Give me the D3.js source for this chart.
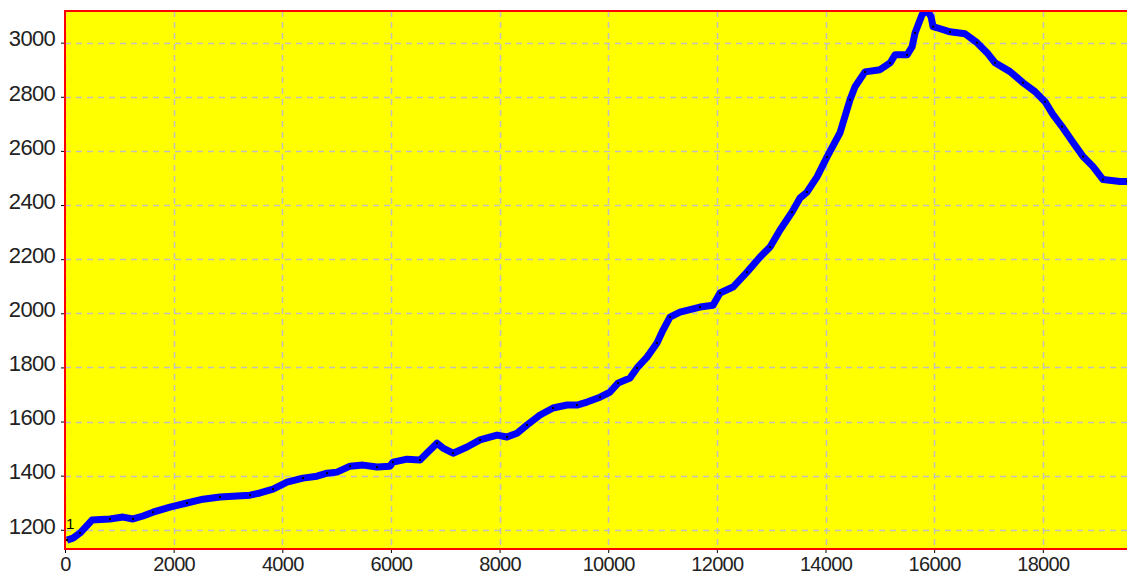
<!DOCTYPE html>
<html>
<head>
<meta charset="utf-8">
<script src="https://cdn.jsdelivr.net/npm/d3@7"></script>
<style>
  body { margin: 0; background: #fff; }
  text { font-family: "Liberation Sans", Arial, sans-serif; }
</style>
</head>
<body>
<div id="chart"></div>
<script>
// data
var xs = [37, 147, 276, 497, 828, 1068, 1252, 1436, 1620, 1933, 2246, 2540, 2853, 3166, 3406, 3590,
  3829, 4087, 4381, 4639, 4823, 5007, 5247, 5486, 5744, 5983, 6038, 6296, 6535, 6683, 6848, 6959,
  7143, 7401, 7640, 7953, 8137, 8321, 8505, 8745, 8984, 9242, 9426, 9610, 9849, 10033, 10180, 10401,
  10530, 10714, 10898, 11009, 11137, 11321, 11690, 11929, 12058, 12297, 12555, 12795, 12979, 13163,
  13384, 13531, 13660, 13844, 14028, 14267, 14451, 14543, 14727, 15004, 15188, 15280, 15501, 15593,
  15648, 15777, 15869, 15943, 15980, 16053, 16292, 16568, 16789, 16973, 17121, 17397, 17636, 17857,
  18041, 18188, 18354, 18557, 18741, 18925, 19109, 19422, 19551]
var ys = [1162, 1169, 1188, 1236, 1240, 1247, 1240, 1251, 1265, 1284, 1299, 1313, 1321, 1325, 1328, 1336,
  1350, 1376, 1391, 1398, 1409, 1413, 1435, 1439, 1432, 1435, 1450, 1461, 1458, 1487, 1520, 1502,
  1483, 1506, 1532, 1550, 1543, 1557, 1587, 1624, 1650, 1661, 1661, 1672, 1690, 1709, 1742, 1761,
  1798, 1838, 1890, 1938, 1986, 2004, 2023, 2030, 2075, 2097, 2152, 2208, 2245, 2308,
  2374, 2426, 2448, 2504, 2578, 2667, 2789, 2837, 2892, 2900, 2925, 2955, 2955, 2984,
  3036, 3103, 3122, 3096, 3059, 3055, 3040, 3033, 3000, 2963, 2926, 2893, 2852, 2819,
  2782, 2734, 2690, 2631, 2579, 2542, 2494, 2487, 2487]
var xTicks = [0, 2000, 4000, 6000, 8000, 10000, 12000, 14000, 16000, 18000]
var yTicks = [1200, 1400, 1600, 1800, 2000, 2200, 2400, 2600, 2800, 3000]

var width = 1127, height = 578
var margin = {top: 11, left: 65, right: 0, bottom: 29}
var w = width - margin.left - margin.right,
    h = height - margin.top - margin.bottom

var data = xs.map(function(d, i) { return {x: d, y: ys[i]} })

var svg = d3.select("#chart").append("svg")
    .attr("width", width)
    .attr("height", height)

var g = svg.append("g")
    .attr("transform", "translate(" + margin.left + "," + margin.top + ")")

var x = d3.scaleLinear().domain([0, 19550]).range([0, w])
var y = d3.scaleLinear().domain([1129, 3117]).range([h, 0])

// yellow plot background
g.append("rect")
  .attr("width", w).attr("height", h)
  .attr("fill", "#ffff00")

// dashed grid
g.selectAll(".vgrid").data(xTicks).enter().append("line")
  .attr("x1", d => Math.round(x(d)) + 0.5).attr("x2", d => Math.round(x(d)) + 0.5)
  .attr("y1", 0).attr("y2", h)
  .attr("stroke", "#c0c0c0").attr("stroke-width", 1.5).attr("stroke-dasharray", "6,5")
g.selectAll(".hgrid").data(yTicks).enter().append("line")
  .attr("y1", d => Math.round(y(d)) + 0.5).attr("y2", d => Math.round(y(d)) + 0.5)
  .attr("x1", 0).attr("x2", w)
  .attr("stroke", "#c0c0c0").attr("stroke-width", 1.5).attr("stroke-dasharray", "6,5")

// clip for the series
g.append("clipPath").attr("id", "clip")
  .append("rect").attr("width", w).attr("height", h)

var line = d3.line().x(d => x(d.x)).y(d => y(d.y))

var series = g.append("g").attr("clip-path", "url(#clip)")
series.append("path")
  .datum(data)
  .attr("d", line)
  .attr("fill", "none")
  .attr("stroke", "#0000ff")
  .attr("stroke-width", 7)
  .attr("stroke-linejoin", "round")

series.selectAll(".pt").data(data.filter((d, i) => i % 2 == 0)).enter().append("rect")
  .attr("x", d => x(d.x) - 1).attr("y", d => y(d.y) - 1)
  .attr("width", 2).attr("height", 2)
  .attr("fill", "#000")

g.append("text")
  .attr("x", 1).attr("y", y(1200) - 1)
  .attr("font-size", 15)
  .attr("fill", "#000")
  .text("1")

// axes
var xAxis = g.append("g")
  .attr("transform", "translate(0," + h + ")")
  .call(d3.axisBottom(x).tickValues(xTicks).tickSize(4).tickPadding(4).tickFormat(d3.format("d")))
var yAxis = g.append("g")
  .call(d3.axisLeft(y).tickValues(yTicks).tickSize(4).tickPadding(6).tickFormat(d3.format("d")))

;[xAxis, yAxis].forEach(function(a) {
  a.select(".domain").remove()
  a.selectAll("line").attr("stroke", "#000")
  a.selectAll("text").attr("font-size", 22).attr("fill", "#222")
    .attr("letter-spacing", -0.7)
    .attr("font-family", "'Liberation Sans', Arial, sans-serif")
})
yAxis.selectAll("text").attr("dy", "0.15em")
xAxis.selectAll("text").attr("font-size", 20).attr("dy", "0.72em")

// red frame
g.append("rect")
  .attr("x", 0).attr("y", 0).attr("width", w + 2).attr("height", h)
  .attr("fill", "none").attr("stroke", "#ff0000").attr("stroke-width", 2)
</script>
</body>
</html>
